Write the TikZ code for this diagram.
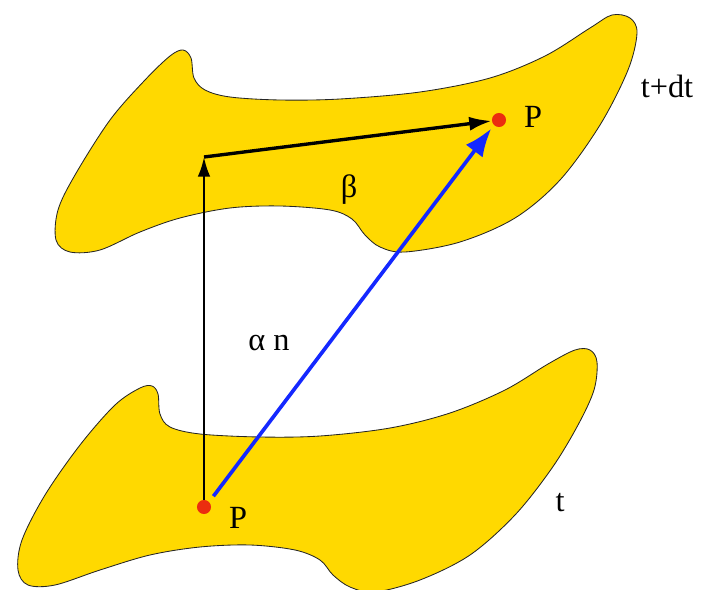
\documentclass[tikz,border=0pt]{standalone}
\usepackage{fontspec}
\setmainfont{Liberation Serif}
\usetikzlibrary{arrows.meta,positioning,calc}
\definecolor{SheetYellow}{RGB}{255, 217, 0}
\definecolor{DotRed}{RGB}{235, 45, 15}
\definecolor{MoveBlue}{RGB}{20, 40, 255}

\tikzset{
  sheet/.style={fill=SheetYellow, draw=black!85, line width=0.6pt},
  dot/.style={circle, fill=DotRed, inner sep=0pt, minimum size=10pt},
  lbl/.style={font=\fontsize{23}{27}\selectfont, inner sep=0pt}
}

\begin{document}
\begin{tikzpicture}[x=0.025cm, y=-0.025cm]
  \useasboundingbox (0,0) rectangle (702,590);

  % Surface at t+dt
  \draw[sheet] plot[smooth cycle, tension=0.55] coordinates {
    (183,50) (191,58) (194,78) (205,90) (230,97) (280,100) (340,99) (420,92)
    (490,78) (545,56) (590,28) (612,15) (630,18) (637,33) (628,70) (600,125)
    (560,180) (515,218) (460,242) (405,252) (380,247) (365,235) (352,219)
    (330,210) (280,206) (230,208) (180,218) (140,232) (100,250) (70,252)
    (56,240) (58,210) (75,175) (110,120) (145,80) (170,56)};

  % Surface at t
  \draw[sheet] plot[smooth cycle, tension=0.55] coordinates {
    (152,386) (158,394) (160,414) (170,427) (200,434) (260,437) (320,436)
    (390,428) (450,413) (505,390) (548,364) (575,350) (590,350) (597,362)
    (594,390) (578,425) (552,468) (515,515) (470,555) (420,580) (375,592)
    (350,587) (333,575) (320,560) (295,550) (250,545) (200,547) (150,555)
    (100,570) (55,585) (28,585) (18,570) (22,540) (45,495) (80,445)
    (115,405) (140,388)};

  % Points
  \node[dot] (Pt) at (204,507) {};
  \node[dot] (Pdt) at (499,120) {};
  \coordinate (foot) at (204,157);

  % Normal and tangential parts
  \draw[line width=1.6pt, -{Latex[length=14pt, width=9pt]}] (Pt) -- (foot);
  \draw[line width=2.4pt, -{Latex[length=16pt, width=10pt]}] (foot) -- (Pdt);

  % Total displacement
  \draw[MoveBlue, line width=2.6pt, shorten <=5pt, shorten >=3pt,
        -{Latex[length=20pt, width=15pt]}] (Pt.north east) -- (Pdt.south west);

  % Labels
  \node[lbl] (lP1) at (238,518) {P};
  \node[lbl] (lP2) at (533,117) {P};
  \node[lbl] (lt) at (560,503) {t};
  \node[lbl] (ltdt) at (667,86) {t+dt};
  \node[lbl] (lbeta) at (349,190) {β};
  \node[lbl] (lan) at (269,343) {α n};
\end{tikzpicture}
\end{document}
